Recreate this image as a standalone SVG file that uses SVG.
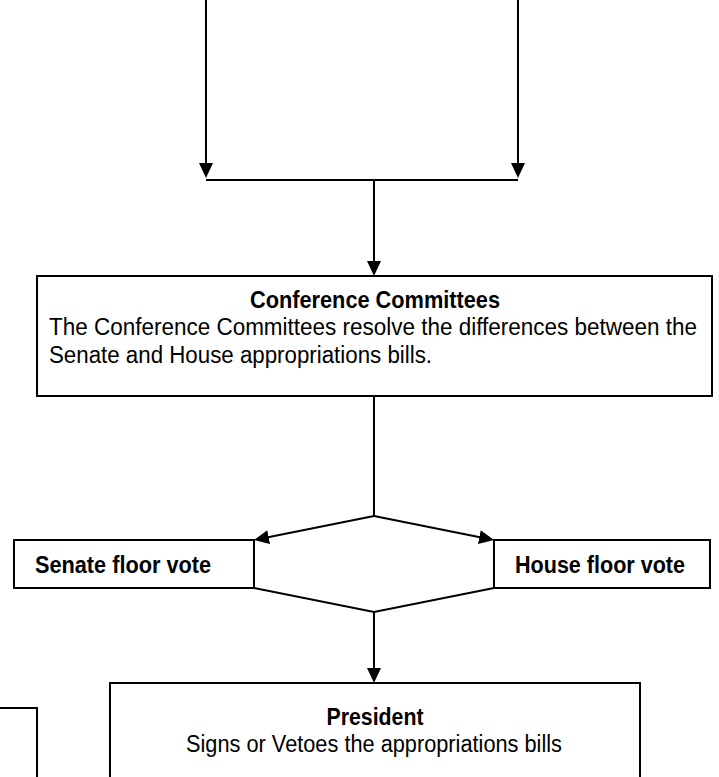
<svg xmlns="http://www.w3.org/2000/svg" width="719" height="777" viewBox="0 0 719 777">
<style>
.box{fill:#fff;stroke:#000;stroke-width:2}
.ln{fill:none;stroke:#000;stroke-width:2}
.t{font-family:"Liberation Sans",Arial,sans-serif;font-size:23px;fill:#000}
.b{font-weight:bold}
.m{text-anchor:middle}
</style>
<defs>
<marker id="ah" viewBox="0 0 15 14" refX="7" refY="7" markerWidth="15" markerHeight="14" markerUnits="userSpaceOnUse" orient="auto">
<path d="M0,0 L15,7 L0,14 z" fill="#000"/>
</marker>
</defs>
<g id="connectors">
<path class="ln" d="M206,0 V170" marker-end="url(#ah)"/>
<path class="ln" d="M518,0 V170" marker-end="url(#ah)"/>
<path class="ln" d="M206,180 H518"/>
<path class="ln" d="M374,180 V268" marker-end="url(#ah)"/>
<path class="ln" d="M374,396 V516"/>
<path class="ln" d="M374,516 L261.8,538.4" marker-end="url(#ah)"/>
<path class="ln" d="M374,516 L486.2,538.4" marker-end="url(#ah)"/>
<path class="ln" d="M254,588 L374,612 L494,588"/>
<path class="ln" d="M374,612 V675" marker-end="url(#ah)"/>
</g>
<g id="conference">
<rect class="box" x="37" y="276" width="675" height="120"/>
<text class="t b m" x="375" y="308" textLength="250" lengthAdjust="spacingAndGlyphs">Conference Committees</text>
<text class="t" x="49" y="335" textLength="648" lengthAdjust="spacingAndGlyphs">The Conference Committees resolve the differences between the</text>
<text class="t" x="49" y="363" textLength="383" lengthAdjust="spacingAndGlyphs">Senate and House appropriations bills.</text>
</g>
<g id="senate">
<rect class="box" x="14" y="540" width="240" height="48"/>
<text class="t b" x="35" y="573" textLength="176" lengthAdjust="spacingAndGlyphs">Senate floor vote</text>
</g>
<g id="house">
<rect class="box" x="494" y="540" width="216" height="48"/>
<text class="t b" x="515" y="573" textLength="170" lengthAdjust="spacingAndGlyphs">House floor vote</text>
</g>
<g id="president">
<rect class="box" x="110" y="683" width="530" height="120"/>
<text class="t b m" x="375" y="725" textLength="97" lengthAdjust="spacingAndGlyphs">President</text>
<text class="t m" x="374" y="752" textLength="376" lengthAdjust="spacingAndGlyphs">Signs or Vetoes the appropriations bills</text>
</g>
<g id="partial-box">
<rect class="box" x="-10" y="708" width="47" height="100"/>
</g>
</svg>
